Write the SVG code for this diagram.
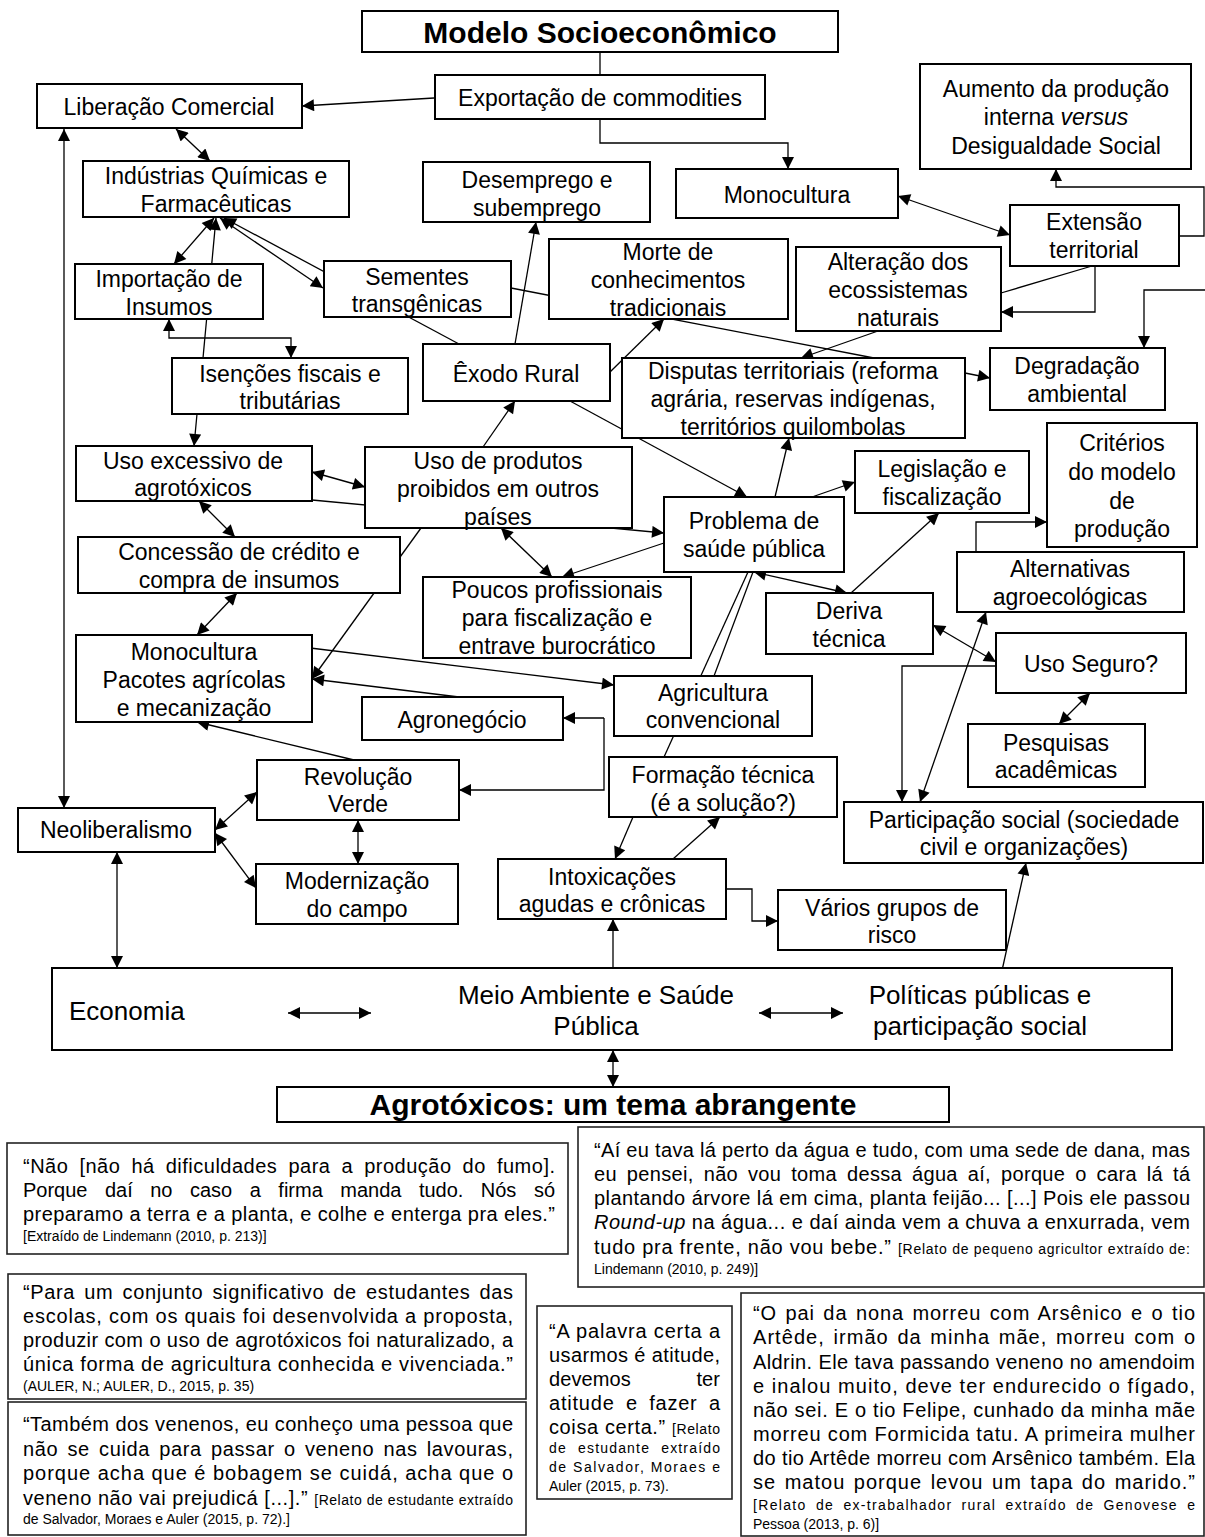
<svg xmlns="http://www.w3.org/2000/svg" width="1205" height="1537" viewBox="0 0 1205 1537">
<style>
.box{fill:#fff;stroke:#000;stroke-width:2}
.q{fill:#fff;stroke:#222;stroke-width:1.6}
.t{font-family:"Liberation Sans",Arial,sans-serif;font-size:23px;text-anchor:middle;fill:#000}
.tb{font-family:"Liberation Sans",Arial,sans-serif;font-weight:bold;text-anchor:middle;fill:#000}
.bt{font-family:"Liberation Sans",Arial,sans-serif;font-size:26px;fill:#000}
.qt{font-family:"Liberation Sans",Arial,sans-serif;font-size:20px;fill:#000}
.s{font-size:14px}
.c{fill:none;stroke:#000;stroke-width:1.3}
</style>
<defs>
<marker id="ah" viewBox="0 0 10 10" refX="10" refY="5" markerWidth="14" markerHeight="12" markerUnits="userSpaceOnUse" orient="auto-start-reverse"><path d="M0,0 L10,5 L0,10 z" fill="#000"/></marker>
</defs>
<rect width="1205" height="1537" fill="#fff"/>
<g id="connectors">
<line class="c" x1="600" y1="52" x2="600" y2="75"/>
<path class="c" d="M600,119 V143 H788 V169" marker-end="url(#ah)"/>
<line class="c" x1="434" y1="98" x2="302" y2="106" marker-end="url(#ah)"/>
<line class="c" x1="176" y1="129" x2="210" y2="161" marker-start="url(#ah)" marker-end="url(#ah)"/>
<line class="c" x1="64" y1="129" x2="64" y2="808" marker-start="url(#ah)" marker-end="url(#ah)"/>
<line class="c" x1="214" y1="218" x2="174" y2="264" marker-start="url(#ah)" marker-end="url(#ah)"/>
<line class="c" x1="203" y1="358" x2="216" y2="218" marker-end="url(#ah)"/>
<line class="c" x1="220" y1="218" x2="323" y2="288" marker-start="url(#ah)" marker-end="url(#ah)"/>
<line class="c" x1="459" y1="344" x2="224" y2="218" marker-end="url(#ah)"/>
<path class="c" d="M169,319 V338 H291 V358" marker-start="url(#ah)" marker-end="url(#ah)"/>
<line class="c" x1="515" y1="344" x2="536" y2="222" marker-end="url(#ah)"/>
<line class="c" x1="511" y1="288" x2="874" y2="358"/>
<line class="c" x1="878" y1="331" x2="801" y2="358" marker-end="url(#ah)"/>
<line class="c" x1="610" y1="372" x2="664" y2="319" marker-end="url(#ah)"/>
<line class="c" x1="898" y1="196" x2="1010" y2="235" marker-start="url(#ah)" marker-end="url(#ah)"/>
<path class="c" d="M1179,236 H1204 V187 H1056 V169" marker-end="url(#ah)"/>
<path class="c" d="M1095,266 V312 H1001" marker-end="url(#ah)"/>
<line class="c" x1="1092" y1="266" x2="1001" y2="293"/>
<path class="c" d="M1205,290 H1144 V348" marker-end="url(#ah)"/>
<line class="c" x1="197" y1="414" x2="194" y2="446" marker-end="url(#ah)"/>
<line class="c" x1="312" y1="472" x2="365" y2="487" marker-start="url(#ah)" marker-end="url(#ah)"/>
<line class="c" x1="312" y1="500" x2="664" y2="533" marker-end="url(#ah)"/>
<line class="c" x1="199" y1="501" x2="235" y2="537" marker-start="url(#ah)" marker-end="url(#ah)"/>
<line class="c" x1="237" y1="593" x2="197" y2="635" marker-start="url(#ah)" marker-end="url(#ah)"/>
<line class="c" x1="421" y1="528" x2="312" y2="679" marker-end="url(#ah)"/>
<line class="c" x1="483" y1="447" x2="515" y2="401" marker-end="url(#ah)"/>
<line class="c" x1="501" y1="528" x2="552" y2="577" marker-start="url(#ah)" marker-end="url(#ah)"/>
<line class="c" x1="664" y1="543" x2="562" y2="577" marker-end="url(#ah)"/>
<line class="c" x1="570" y1="401" x2="747" y2="497" marker-end="url(#ah)"/>
<line class="c" x1="775" y1="497" x2="789" y2="438" marker-end="url(#ah)"/>
<line class="c" x1="812" y1="497" x2="855" y2="482" marker-end="url(#ah)"/>
<line class="c" x1="965" y1="373" x2="990" y2="378" marker-end="url(#ah)"/>
<path class="c" d="M976,552 V522 H1047" marker-end="url(#ah)"/>
<line class="c" x1="754" y1="572" x2="847" y2="593" marker-start="url(#ah)" marker-end="url(#ah)"/>
<line class="c" x1="851" y1="593" x2="939" y2="513" marker-end="url(#ah)"/>
<line class="c" x1="933" y1="625" x2="996" y2="662" marker-start="url(#ah)" marker-end="url(#ah)"/>
<line class="c" x1="920" y1="802" x2="986" y2="612" marker-start="url(#ah)" marker-end="url(#ah)"/>
<path class="c" d="M996,666 H902 V802" marker-end="url(#ah)"/>
<line class="c" x1="1090" y1="693" x2="1059" y2="724" marker-start="url(#ah)" marker-end="url(#ah)"/>
<line class="c" x1="664" y1="757" x2="748" y2="572"/>
<line class="c" x1="714" y1="676" x2="753" y2="572"/>
<path class="c" d="M604,718 H563" marker-end="url(#ah)"/>
<path class="c" d="M604,718 V790 H459" marker-end="url(#ah)"/>
<line class="c" x1="302" y1="647" x2="614" y2="685" marker-end="url(#ah)"/>
<line class="c" x1="459" y1="697" x2="312" y2="679" marker-end="url(#ah)"/>
<line class="c" x1="354" y1="760" x2="197" y2="722" marker-end="url(#ah)"/>
<line class="c" x1="215" y1="830" x2="257" y2="792" marker-start="url(#ah)" marker-end="url(#ah)"/>
<line class="c" x1="215" y1="833" x2="256" y2="888" marker-start="url(#ah)" marker-end="url(#ah)"/>
<line class="c" x1="358" y1="820" x2="358" y2="864" marker-start="url(#ah)" marker-end="url(#ah)"/>
<line class="c" x1="117" y1="852" x2="117" y2="968" marker-start="url(#ah)" marker-end="url(#ah)"/>
<line class="c" x1="633" y1="817" x2="615" y2="859" marker-end="url(#ah)"/>
<line class="c" x1="673" y1="859" x2="720" y2="817" marker-end="url(#ah)"/>
<path class="c" d="M726,889 H752 V921 H778" marker-end="url(#ah)"/>
<line class="c" x1="613" y1="968" x2="613" y2="919" marker-end="url(#ah)"/>
<line class="c" x1="1001" y1="975" x2="1026" y2="863" marker-end="url(#ah)"/>
<line class="c" x1="613" y1="1050" x2="613" y2="1087" marker-start="url(#ah)" marker-end="url(#ah)"/>
</g>
<g id="n-modelo"><rect class="box" x="362" y="11" width="476" height="41"/><text class="tb" x="600" y="43" font-size="30">Modelo Socioeconômico</text></g>
<g id="n-exportacao"><rect class="box" x="435" y="75" width="330" height="44"/><text class="t" x="600" y="106">Exportação de commodities</text></g>
<g id="n-liberacao"><rect class="box" x="37" y="84" width="265" height="44"/><text class="t" x="169" y="115">Liberação Comercial</text></g>
<g id="n-aumento"><rect class="box" x="920" y="64" width="271" height="105"/><text class="t" x="1056" y="97">Aumento da produção</text><text class="t" x="1056" y="125">interna <tspan font-style="italic">versus</tspan></text><text class="t" x="1056" y="154">Desigualdade Social</text></g>
<g id="n-industrias"><rect class="box" x="83" y="161" width="266" height="56"/><text class="t" x="216" y="184">Indústrias Químicas e</text><text class="t" x="216" y="212">Farmacêuticas</text></g>
<g id="n-desemprego"><rect class="box" x="423" y="162" width="227" height="60"/><text class="t" x="537" y="188">Desemprego e</text><text class="t" x="537" y="216">subemprego</text></g>
<g id="n-monocultura"><rect class="box" x="676" y="169" width="222" height="49"/><text class="t" x="787" y="203">Monocultura</text></g>
<g id="n-extensao"><rect class="box" x="1010" y="205" width="169" height="61"/><text class="t" x="1094" y="230">Extensão</text><text class="t" x="1094" y="258">territorial</text></g>
<g id="n-importacao"><rect class="box" x="75" y="264" width="188" height="55"/><text class="t" x="169" y="287">Importação de</text><text class="t" x="169" y="315">Insumos</text></g>
<g id="n-sementes"><rect class="box" x="324" y="261" width="187" height="56"/><text class="t" x="417" y="285">Sementes</text><text class="t" x="417" y="312">transgênicas</text></g>
<g id="n-morte"><rect class="box" x="549" y="239" width="239" height="80"/><text class="t" x="668" y="260">Morte de</text><text class="t" x="668" y="288">conhecimentos</text><text class="t" x="668" y="316">tradicionais</text></g>
<g id="n-alteracao"><rect class="box" x="796" y="247" width="205" height="84"/><text class="t" x="898" y="270">Alteração dos</text><text class="t" x="898" y="298">ecossistemas</text><text class="t" x="898" y="326">naturais</text></g>
<g id="n-isencoes"><rect class="box" x="172" y="358" width="236" height="56"/><text class="t" x="290" y="382">Isenções fiscais e</text><text class="t" x="290" y="409">tributárias</text></g>
<g id="n-exodo"><rect class="box" x="423" y="344" width="187" height="57"/><text class="t" x="516" y="382">Êxodo Rural</text></g>
<g id="n-disputas"><rect class="box" x="622" y="358" width="343" height="80"/><text class="t" x="793" y="379">Disputas territoriais (reforma</text><text class="t" x="793" y="407">agrária, reservas indígenas,</text><text class="t" x="793" y="435">territórios quilombolas</text></g>
<g id="n-degradacao"><rect class="box" x="990" y="348" width="175" height="62"/><text class="t" x="1077" y="374">Degradação</text><text class="t" x="1077" y="402">ambiental</text></g>
<g id="n-usoexcessivo"><rect class="box" x="76" y="446" width="236" height="55"/><text class="t" x="193" y="469">Uso excessivo de</text><text class="t" x="193" y="496">agrotóxicos</text></g>
<g id="n-usoprodutos"><rect class="box" x="365" y="447" width="267" height="81"/><text class="t" x="498" y="469">Uso de produtos</text><text class="t" x="498" y="497">proibidos em outros</text><text class="t" x="498" y="525">países</text></g>
<g id="n-legislacao"><rect class="box" x="855" y="451" width="174" height="62"/><text class="t" x="942" y="477">Legislação e</text><text class="t" x="942" y="505">fiscalização</text></g>
<g id="n-criterios"><rect class="box" x="1047" y="423" width="150" height="124"/><text class="t" x="1122" y="451">Critérios</text><text class="t" x="1122" y="480">do modelo</text><text class="t" x="1122" y="509">de</text><text class="t" x="1122" y="537">produção</text></g>
<g id="n-problema"><rect class="box" x="664" y="497" width="180" height="75"/><text class="t" x="754" y="529">Problema de</text><text class="t" x="754" y="557">saúde pública</text></g>
<g id="n-concessao"><rect class="box" x="78" y="537" width="322" height="56"/><text class="t" x="239" y="560">Concessão de crédito e</text><text class="t" x="239" y="588">compra de insumos</text></g>
<g id="n-poucos"><rect class="box" x="423" y="577" width="268" height="81"/><text class="t" x="557" y="598">Poucos profissionais</text><text class="t" x="557" y="626">para fiscalização e</text><text class="t" x="557" y="654">entrave burocrático</text></g>
<g id="n-alternativas"><rect class="box" x="957" y="552" width="227" height="60"/><text class="t" x="1070" y="577">Alternativas</text><text class="t" x="1070" y="605">agroecológicas</text></g>
<g id="n-deriva"><rect class="box" x="766" y="593" width="167" height="61"/><text class="t" x="849" y="619">Deriva</text><text class="t" x="849" y="647">técnica</text></g>
<g id="n-usoseguro"><rect class="box" x="996" y="633" width="190" height="60"/><text class="t" x="1091" y="672">Uso Seguro?</text></g>
<g id="n-monocultura2"><rect class="box" x="76" y="635" width="236" height="87"/><text class="t" x="194" y="660">Monocultura</text><text class="t" x="194" y="688">Pacotes agrícolas</text><text class="t" x="194" y="716">e mecanização</text></g>
<g id="n-agricultura"><rect class="box" x="614" y="676" width="198" height="60"/><text class="t" x="713" y="701">Agricultura</text><text class="t" x="713" y="728">convencional</text></g>
<g id="n-agronegocio"><rect class="box" x="362" y="697" width="201" height="43"/><text class="t" x="462" y="728">Agronegócio</text></g>
<g id="n-pesquisas"><rect class="box" x="968" y="724" width="177" height="63"/><text class="t" x="1056" y="751">Pesquisas</text><text class="t" x="1056" y="778">acadêmicas</text></g>
<g id="n-revolucao"><rect class="box" x="257" y="760" width="202" height="60"/><text class="t" x="358" y="785">Revolução</text><text class="t" x="358" y="812">Verde</text></g>
<g id="n-formacao"><rect class="box" x="609" y="757" width="228" height="60"/><text class="t" x="723" y="783">Formação técnica</text><text class="t" x="723" y="811">(é a solução?)</text></g>
<g id="n-neoliberalismo"><rect class="box" x="18" y="808" width="197" height="44"/><text class="t" x="116" y="838">Neoliberalismo</text></g>
<g id="n-participacao"><rect class="box" x="844" y="802" width="359" height="61"/><text class="t" x="1024" y="828">Participação social (sociedade</text><text class="t" x="1024" y="855">civil e organizações)</text></g>
<g id="n-modernizacao"><rect class="box" x="256" y="864" width="202" height="60"/><text class="t" x="357" y="889">Modernização</text><text class="t" x="357" y="917">do campo</text></g>
<g id="n-intoxicacoes"><rect class="box" x="498" y="859" width="228" height="60"/><text class="t" x="612" y="885">Intoxicações</text><text class="t" x="612" y="912">agudas e crônicas</text></g>
<g id="n-varios"><rect class="box" x="778" y="890" width="228" height="60"/><text class="t" x="892" y="916">Vários grupos de</text><text class="t" x="892" y="943">risco</text></g>
<g id="n-eixos"><rect class="box" x="52" y="968" width="1120" height="82"/>
<text class="bt" x="69" y="1020">Economia</text>
<text class="bt" x="596" y="1004" text-anchor="middle">Meio Ambiente e Saúde</text><text class="bt" x="596" y="1035" text-anchor="middle">Pública</text>
<text class="bt" x="980" y="1004" text-anchor="middle">Políticas públicas e</text><text class="bt" x="980" y="1035" text-anchor="middle">participação social</text>
<line class="c" x1="288" y1="1013" x2="371" y2="1013" marker-start="url(#ah)" marker-end="url(#ah)"/>
<line class="c" x1="759" y1="1013" x2="843" y2="1013" marker-start="url(#ah)" marker-end="url(#ah)"/>
</g>
<g id="n-agrotoxicos"><rect class="box" x="277" y="1087" width="672" height="35"/><text class="tb" x="613" y="1115" font-size="30">Agrotóxicos: um tema abrangente</text></g>
<g id="q1"><rect class="q" x="7" y="1143" width="561" height="111"/>
<text class="qt" x="23" y="1173" textLength="532" lengthAdjust="spacing" word-spacing="5">“Não [não há dificuldades para a produção do fumo].</text>
<text class="qt" x="23" y="1197" textLength="532" lengthAdjust="spacing" word-spacing="12">Porque daí no caso a firma manda tudo. Nós só</text>
<text class="qt" x="23" y="1221" textLength="532" lengthAdjust="spacing">preparamo a terra e a planta, e colhe e enterga pra eles.”</text>
<text class="qt s" x="23" y="1241">[Extraído de Lindemann (2010, p. 213)]</text></g>
<g id="q2"><rect class="q" x="578" y="1127" width="626" height="160"/>
<text class="qt" x="594" y="1157" textLength="596" lengthAdjust="spacing">“Aí eu tava lá perto da água e tudo, com uma sede de dana, mas</text>
<text class="qt" x="594" y="1181" textLength="596" lengthAdjust="spacing" word-spacing="4">eu pensei, não vou toma dessa água aí, porque o cara lá tá</text>
<text class="qt" x="594" y="1205" textLength="596" lengthAdjust="spacing">plantando árvore lá em cima, planta feijão... [...] Pois ele passou</text>
<text class="qt" x="594" y="1229" textLength="596" lengthAdjust="spacing"><tspan font-style="italic">Round-up</tspan> na água... e daí ainda vem a chuva a enxurrada, vem</text>
<text class="qt" x="594" y="1254" textLength="596" lengthAdjust="spacing">tudo pra frente, não vou bebe.” <tspan class="s">[Relato de pequeno agricultor extraído de:</tspan></text>
<text class="qt s" x="594" y="1274">Lindemann (2010, p. 249)]</text></g>
<g id="q3"><rect class="q" x="8" y="1274" width="518" height="125"/>
<text class="qt" x="23" y="1299" textLength="490" lengthAdjust="spacing" word-spacing="3">“Para um conjunto significativo de estudantes das</text>
<text class="qt" x="23" y="1323" textLength="490" lengthAdjust="spacing">escolas, com os quais foi desenvolvida a proposta,</text>
<text class="qt" x="23" y="1347" textLength="490" lengthAdjust="spacing">produzir com o uso de agrotóxicos foi naturalizado, a</text>
<text class="qt" x="23" y="1371" textLength="490" lengthAdjust="spacing">única forma de agricultura conhecida e vivenciada.”</text>
<text class="qt s" x="23" y="1391">(AULER, N.; AULER, D., 2015, p. 35)</text></g>
<g id="q4"><rect class="q" x="8" y="1402" width="518" height="133"/>
<text class="qt" x="23" y="1431" textLength="490" lengthAdjust="spacing">“Também dos venenos, eu conheço uma pessoa que</text>
<text class="qt" x="23" y="1456" textLength="490" lengthAdjust="spacing" word-spacing="3">não se cuida para passar o veneno nas lavouras,</text>
<text class="qt" x="23" y="1480" textLength="490" lengthAdjust="spacing">porque acha que é bobagem se cuidá, acha que o</text>
<text class="qt" x="23" y="1505" textLength="490" lengthAdjust="spacing">veneno não vai prejudicá [...].” <tspan class="s">[Relato de estudante extraído</tspan></text>
<text class="qt s" x="23" y="1524">de Salvador, Moraes e Auler (2015, p. 72).]</text></g>
<g id="q5"><rect class="q" x="537" y="1306" width="195" height="193"/>
<text class="qt" x="549" y="1338" textLength="171" lengthAdjust="spacing">“A palavra certa a</text>
<text class="qt" x="549" y="1362" textLength="171" lengthAdjust="spacing">usarmos é atitude,</text>
<text class="qt" x="549" y="1386" textLength="171" lengthAdjust="spacing" word-spacing="60">devemos ter</text>
<text class="qt" x="549" y="1410" textLength="171" lengthAdjust="spacing" word-spacing="5">atitude e fazer a</text>
<text class="qt" x="549" y="1434" textLength="171" lengthAdjust="spacing">coisa certa.” <tspan class="s">[Relato</tspan></text>
<text class="qt s" x="549" y="1453" textLength="171" lengthAdjust="spacing" word-spacing="6">de estudante extraído</text>
<text class="qt s" x="549" y="1472" textLength="171" lengthAdjust="spacing">de Salvador, Moraes e</text>
<text class="qt s" x="549" y="1491">Auler (2015, p. 73).</text></g>
<g id="q6"><rect class="q" x="741" y="1293" width="463" height="243"/>
<text class="qt" x="753" y="1320" textLength="442" lengthAdjust="spacing" word-spacing="2">“O pai da nona morreu com Arsênico e o tio</text>
<text class="qt" x="753" y="1344" textLength="442" lengthAdjust="spacing" word-spacing="2">Artêde, irmão da minha mãe, morreu com o</text>
<text class="qt" x="753" y="1369" textLength="442" lengthAdjust="spacing">Aldrin. Ele tava passando veneno no amendoim</text>
<text class="qt" x="753" y="1393" textLength="442" lengthAdjust="spacing">e inalou muito, deve ter endurecido o fígado,</text>
<text class="qt" x="753" y="1417" textLength="442" lengthAdjust="spacing">não sei. E o tio Felipe, cunhado da minha mãe</text>
<text class="qt" x="753" y="1441" textLength="442" lengthAdjust="spacing">morreu com Formicida tatu. A primeira mulher</text>
<text class="qt" x="753" y="1465" textLength="442" lengthAdjust="spacing">do tio Artêde morreu com Arsênico também. Ela</text>
<text class="qt" x="753" y="1489" textLength="442" lengthAdjust="spacing" word-spacing="2">se matou porque levou um tapa do marido.”</text>
<text class="qt s" x="753" y="1510" textLength="442" lengthAdjust="spacing" word-spacing="4">[Relato de ex-trabalhador rural extraído de Genovese e</text>
<text class="qt s" x="753" y="1529">Pessoa (2013, p. 6)]</text></g>
</svg>
